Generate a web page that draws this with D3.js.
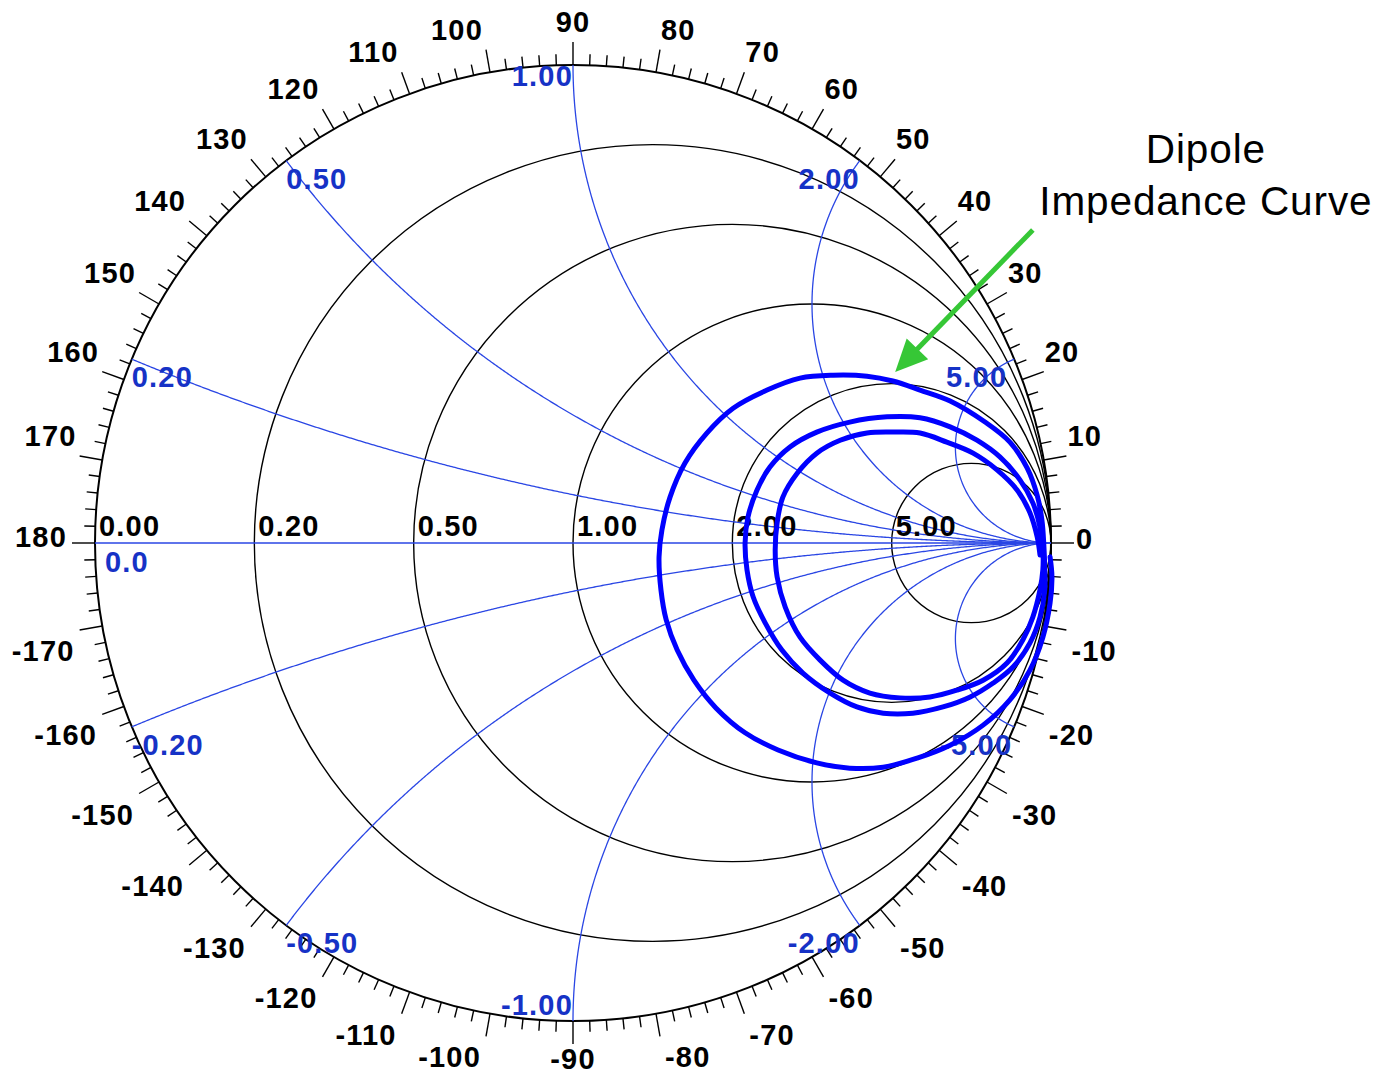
<!DOCTYPE html>
<html><head><meta charset="utf-8">
<script src="https://cdn.jsdelivr.net/npm/d3@7"></script>
<style>body{margin:0;background:#fff}svg{display:block}</style>
</head><body>
<svg id="chart" width="1390" height="1078"></svg>
<script>
// ---------- data ----------
const resistanceValues = [0, 0.2, 0.5, 1, 2, 5];
const resistanceLabels = ["0.00", "0.20", "0.50", "1.00", "2.00", "5.00"];
const reactanceValues = [0.2, 0.5, 1, 2, 5, -0.2, -0.5, -1, -2, -5];
const reactanceLabels = ["0.20", "0.50", "1.00", "2.00", "5.00", "-0.20", "-0.50", "-1.00", "-2.00", "-5.00"];
const angleLabels = [0, 10, 20, 30, 40, 50, 60, 70, 80, 90, 100, 110, 120, 130, 140, 150, 160, 170, 180,
  -170, -160, -150, -140, -130, -120, -110, -100, -90, -80, -70, -60, -50, -40, -30, -20, -10];
const realAxisLabel = "0.0";
// dipole impedance curve, reflection coefficient (real, imaginary)
const curveRe = [0.998, 1.002, 0.998, 0.983, 0.956, 0.914, 0.858, 0.789, 0.720, 0.649, 0.579, 0.510, 0.429, 0.360, 0.299, 0.253, 0.218, 0.195, 0.184, 0.180,
  0.186, 0.203, 0.234, 0.280, 0.335, 0.406, 0.475, 0.544, 0.615, 0.669, 0.726, 0.789, 0.862, 0.914, 0.950, 0.971, 0.981, 0.985,
  0.987, 0.987, 0.977, 0.956, 0.921, 0.879, 0.831, 0.774, 0.711, 0.649, 0.594, 0.538, 0.481, 0.437, 0.402, 0.377, 0.364, 0.360,
  0.366, 0.385, 0.412, 0.454, 0.510, 0.579, 0.657, 0.726, 0.789, 0.845, 0.893, 0.935, 0.962, 0.977, 0.983,
  0.983, 0.977, 0.962, 0.941, 0.908, 0.858, 0.803, 0.747, 0.684, 0.621, 0.565, 0.517, 0.475, 0.444, 0.427, 0.423,
  0.427, 0.439, 0.469, 0.510, 0.559, 0.615, 0.669, 0.726, 0.782, 0.837, 0.887, 0.929, 0.956, 0.971, 0.977];
const curveIm = [-0.029, -0.071, -0.126, -0.197, -0.266, -0.328, -0.381, -0.423, -0.450, -0.469, -0.471, -0.460, -0.433, -0.397, -0.345, -0.287, -0.224, -0.161, -0.098, -0.029,
  0.027, 0.096, 0.167, 0.230, 0.282, 0.320, 0.345, 0.351, 0.349, 0.339, 0.320, 0.297, 0.253, 0.211, 0.157, 0.100, 0.048, -0.004,
  -0.056, -0.098, -0.155, -0.209, -0.259, -0.293, -0.322, -0.343, -0.356, -0.356, -0.343, -0.314, -0.272, -0.224, -0.167, -0.113, -0.056, 0.000,
  0.054, 0.111, 0.159, 0.201, 0.232, 0.253, 0.264, 0.262, 0.243, 0.215, 0.180, 0.132, 0.084, 0.033, -0.015,
  -0.056, -0.098, -0.155, -0.203, -0.251, -0.287, -0.308, -0.322, -0.324, -0.314, -0.287, -0.245, -0.197, -0.134, -0.071, -0.015,
  0.042, 0.096, 0.146, 0.188, 0.215, 0.230, 0.232, 0.230, 0.211, 0.188, 0.153, 0.111, 0.063, 0.013, -0.025];
const annotationLines = ["Dipole", "Impedance Curve"];

// ---------- layout ----------
const cx = 573, cy = 543, R = 478;
const gx = d3.scaleLinear().domain([-1, 1]).range([cx - R, cx + R]);
const gy = d3.scaleLinear().domain([-1, 1]).range([cy + R, cy - R]);
const BLUE_LINE = "#2a46e4", BLUE_TEXT = "#1632c6", CURVE = "#0000ff", GREEN = "#36c736";
const FONT = "'Liberation Sans', Arial, sans-serif";
const FS = 29, LS = 1.2;
const MAJOR = 23, MINOR = 11;

const svg = d3.select("#chart");
const gGrid = svg.append("g");
const gText = svg.append("g");
const gCurve = svg.append("g");

// resistance circles (black)
gGrid.selectAll("circle.res").data(resistanceValues).join("circle")
  .attr("class", "res")
  .attr("cx", r => gx(r / (1 + r)))
  .attr("cy", gy(0))
  .attr("r", r => gx(1 / (1 + r)) - gx(0))
  .attr("fill", "none").attr("stroke", "#000")
  .attr("stroke-width", r => r === 0 ? 2 : 1.4);

// reactance arcs (blue)
const arcLine = d3.line().x(d => gx(d[0])).y(d => gy(d[1]));
function reactancePoints(x) {
  const pts = [];
  for (let i = 0; i <= 600; i++) {
    const u = i / 600 * 0.9995;
    const r = u / (1 - u);
    const D = (r + 1) * (r + 1) + x * x;
    pts.push([(r * r - 1 + x * x) / D, 2 * x / D]);
  }
  return pts;
}
gGrid.selectAll("path.react").data(reactanceValues).join("path")
  .attr("class", "react")
  .attr("d", x => arcLine(reactancePoints(x)))
  .attr("fill", "none").attr("stroke", BLUE_LINE).attr("stroke-width", 1.3);
// real axis
gGrid.append("line")
  .attr("x1", gx(-1)).attr("x2", gx(1)).attr("y1", gy(0)).attr("y2", gy(0))
  .attr("stroke", BLUE_LINE).attr("stroke-width", 1.5);

// angle ticks
const tickAngles = d3.range(-178, 181, 2);
gGrid.selectAll("line.tick").data(tickAngles).join("line")
  .attr("class", "tick")
  .each(function (a) {
    const t = a * Math.PI / 180;
    const len = (a % 10 === 0) ? MAJOR : MINOR;
    const k = (R + len) / R;
    d3.select(this)
      .attr("x1", gx(Math.cos(t))).attr("y1", gy(Math.sin(t)))
      .attr("x2", gx(k * Math.cos(t))).attr("y2", gy(k * Math.sin(t)));
  })
  .attr("stroke", "#000").attr("stroke-width", 1.4);

// angle labels, anchored at the end of each major tick
gText.selectAll("text.ang").data(angleLabels).join("text")
  .attr("class", "ang")
  .text(d => String(d))
  .attr("font-family", FONT).attr("font-size", FS).attr("font-weight", "bold")
  .attr("letter-spacing", LS)
  .each(function (a) {
    const t = a * Math.PI / 180;
    const c = Math.cos(t), s = Math.sin(t);
    const k = (R + MAJOR) / R;
    const ex = gx(k * c), ey = gy(k * s);
    let anchor, x, y;
    if (a === 0) { anchor = "start"; x = ex + 2; y = ey + 6; }
    else if (a === 180) { anchor = "end"; x = ex - 5; y = ey + 4; }
    else if (s > 0) {
      y = ey - 10;
      if (Math.abs(c) < 0.05) { anchor = "middle"; x = ex; }
      else if (c > 0) { anchor = "start"; x = ex + 1; }
      else { anchor = "end"; x = ex - 3; }
    } else {
      y = Math.min(ey + 31, 1069);
      if (Math.abs(c) < 0.05) { anchor = "middle"; x = ex; }
      else if (c > 0) { anchor = "start"; x = ex + 5; }
      else { anchor = "end"; x = ex - 5; }
    }
    d3.select(this).attr("x", x).attr("y", y).attr("text-anchor", anchor);
  });

// resistance labels (black, on real axis)
gText.selectAll("text.reslab").data(resistanceValues).join("text")
  .attr("class", "reslab")
  .text((d, i) => resistanceLabels[i])
  .attr("x", r => gx((r - 1) / (r + 1)) + 4)
  .attr("y", gy(0) - 7)
  .attr("font-family", FONT).attr("font-size", FS).attr("font-weight", "bold")
  .attr("letter-spacing", LS).attr("fill", "#000");

// real axis label (blue)
gText.append("text").text(realAxisLabel)
  .attr("x", gx(-1) + 10).attr("y", gy(0) + 29)
  .attr("font-family", FONT).attr("font-size", FS).attr("font-weight", "bold")
  .attr("letter-spacing", LS).attr("fill", BLUE_TEXT);

// reactance labels (blue) at the outer-circle end of each arc
gText.selectAll("text.xlab").data(reactanceValues).join("text")
  .attr("class", "xlab")
  .text((d, i) => reactanceLabels[i])
  .attr("font-family", FONT).attr("font-size", FS).attr("font-weight", "bold")
  .attr("letter-spacing", LS).attr("fill", BLUE_TEXT)
  .each(function (x) {
    const D = 1 + x * x;
    const ex = gx((x * x - 1) / D), ey = gy(2 * x / D);
    const ax = Math.abs(x);
    let anchor, px, py;
    if (ax < 1) { anchor = "start"; px = ex; }
    else if (ax <= 2) { anchor = "end"; px = ex; }
    else if (x > 0) { anchor = "end"; px = ex - 7; }
    else { anchor = "end"; px = ex - 2; }
    if (x === -1) py = ey - 6; else if (x === 1) py = ey + 21; else py = ey + 28;
    d3.select(this).attr("x", px).attr("y", py).attr("text-anchor", anchor);
  });

// dipole impedance curve
const curveLine = d3.line()
  .x(i => gx(curveRe[i])).y(i => gy(curveIm[i]))
  .curve(d3.curveCatmullRom.alpha(0.5));
gCurve.append("path")
  .attr("d", curveLine(d3.range(curveRe.length)))
  .attr("fill", "none").attr("stroke", CURVE).attr("stroke-width", 5)
  .attr("stroke-linejoin", "round").attr("stroke-linecap", "round");

// annotation
const annoX = 1.324, annoY = [0.795, 0.686];
const gAnno = svg.append("g");
gAnno.selectAll("text").data(annotationLines).join("text")
  .text(d => d)
  .attr("x", gx(annoX)).attr("y", (d, i) => gy(annoY[i]))
  .attr("text-anchor", "middle")
  .attr("font-family", FONT).attr("font-size", 40.5).attr("letter-spacing", 0.9)
  .attr("fill", "#000");
const arrowFrom = [0.962, 0.655], arrowTo = [0.674, 0.358];
{
  const x1 = gx(arrowFrom[0]), y1 = gy(arrowFrom[1]);
  const x2 = gx(arrowTo[0]), y2 = gy(arrowTo[1]);
  const L = Math.hypot(x2 - x1, y2 - y1);
  const ux = (x2 - x1) / L, uy = (y2 - y1) / L;
  const hl = 32, hw = 15;
  const bx = x2 - ux * hl, by = y2 - uy * hl;
  gAnno.append("line").attr("x1", x1).attr("y1", y1).attr("x2", bx + ux * 4).attr("y2", by + uy * 4)
    .attr("stroke", GREEN).attr("stroke-width", 5);
  gAnno.append("polygon")
    .attr("points", [[x2, y2], [bx - uy * hw, by + ux * hw], [bx + uy * hw, by - ux * hw]].map(p => p.join(",")).join(" "))
    .attr("fill", GREEN);
}
</script>
</body></html>
